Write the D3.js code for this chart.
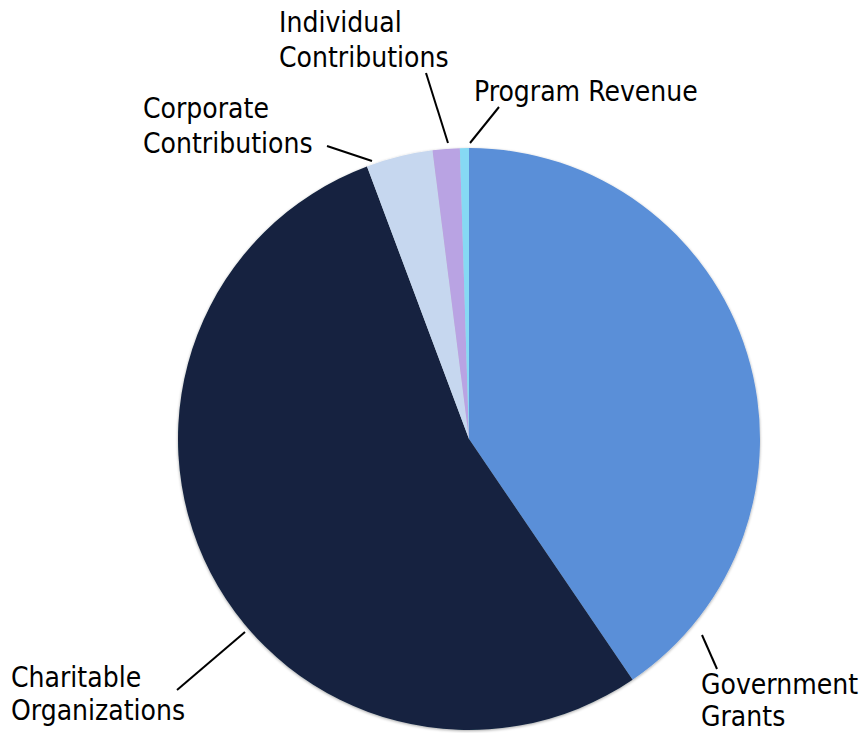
<!DOCTYPE html>
<html>
<head>
<meta charset="utf-8">
<script src="https://cdn.jsdelivr.net/npm/d3@7/dist/d3.min.js"></script>
<style>
  html, body { margin: 0; padding: 0; background: #fff; }
  svg { display: block; }
</style>
</head>
<body>
<svg id="chart" width="867" height="733"></svg>
<script>
// Data (clockwise from 12 o'clock)
const categories = ["Government Grants", "Charitable Organizations", "Corporate Contributions", "Individual Contributions", "Program Revenue"];
const values = [40.5, 53.8, 3.7, 1.5, 0.5];
const colors = ["#5a8fd8", "#13243f", "#c6d7ef", "#b9a3e3", "#86d9f4"];
const labelLines = [["Government", "Grants"], ["Charitable", "Organizations"], ["Corporate", "Contributions"], ["Individual", "Contributions"], ["Program Revenue"]];

const svg = d3.select("#chart");
const cx = 469, cy = 439, r = 291;

const pie = d3.pie().sort(null).value(d => d).startAngle(0).endAngle(2 * Math.PI);
const arcs = pie(values);
const arc = d3.arc().innerRadius(0).outerRadius(r);

const defs = svg.append("defs");
const f = defs.append("filter").attr("id", "sh").attr("x", "-10%").attr("y", "-10%").attr("width", "120%").attr("height", "120%");
f.append("feGaussianBlur").attr("in", "SourceAlpha").attr("stdDeviation", 1.5).attr("result", "b");
f.append("feOffset").attr("in", "b").attr("dx", 0).attr("dy", 1).attr("result", "o");
f.append("feComponentTransfer").attr("in", "o").attr("result", "o2")
  .append("feFuncA").attr("type", "linear").attr("slope", 0.35);
const m = f.append("feMerge");
m.append("feMergeNode").attr("in", "o2");
m.append("feMergeNode").attr("in", "SourceGraphic");

const g = svg.append("g").attr("transform", `translate(${cx},${cy})`).attr("filter", "url(#sh)");
g.selectAll("path").data(arcs).join("path")
  .attr("d", arc)
  .attr("fill", (d, i) => colors[i]);

// Leader lines and labels (positions are layout, not data)
const leaders = [
  { line: [[702, 635], [717, 669]], text: [701, 694], lh: 32 },
  { line: [[245, 632], [177, 690]], text: [11, 687], lh: 33 },
  { line: [[327, 146], [372, 161]], text: [143, 118], lh: 35 },
  { line: [[426, 73], [448, 143]], text: [279, 32], lh: 35 },
  { line: [[499, 107], [470, 143]], text: [474, 101], lh: 35 }
];

const lab = svg.append("g");
leaders.forEach((L, i) => {
  lab.append("line")
    .attr("x1", L.line[0][0]).attr("y1", L.line[0][1])
    .attr("x2", L.line[1][0]).attr("y2", L.line[1][1])
    .attr("stroke", "#000").attr("stroke-width", 2);
  const t = lab.append("text")
    .attr("x", L.text[0]).attr("y", L.text[1])
    .attr("font-family", "'DejaVu Sans Condensed', 'DejaVu Sans', sans-serif")
    .attr("font-stretch", "condensed")
    .attr("font-size", 28)
    .attr("fill", "#000");
  labelLines[i].forEach((s, j) => {
    t.append("tspan").attr("x", L.text[0]).attr("dy", j === 0 ? 0 : L.lh).text(s);
  });
});
</script>
</body>
</html>
